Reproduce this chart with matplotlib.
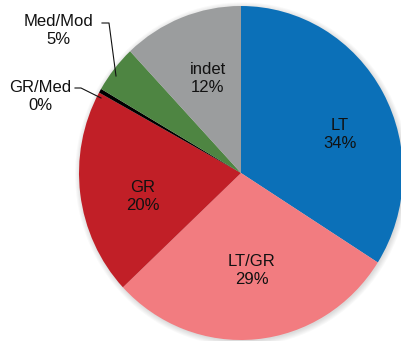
import matplotlib.pyplot as plt
from matplotlib.patches import Ellipse

plt.rcParams['font.family'] = ['Liberation Sans', 'DejaVu Sans']

# share of each class, clockwise from 12 o'clock
names = ["LT", "LT/GR", "GR", "GR/Med", "Med/Mod", "indet"]
shares = [34, 29, 20, 0.4, 4.6, 12]
colors = ["#0b70b8", "#f27c80", "#c11f27", "#000000", "#4e8542", "#9b9d9e"]

W, H = 402, 341
cx, cy = 241, 173          # pie centre in pixels (from top-left)
rx, ry = 162, 167          # slightly squashed horizontally

fig = plt.figure(figsize=(W / 100, H / 100), dpi=100)
ax = fig.add_axes([0, 0, 1, 1])

# soft drop shadow behind the pie
for k in range(6):
    ax.add_patch(Ellipse((0.006, -0.008), 2 * (1 + 0.006 * k), 2 * (1 + 0.006 * k),
                         color="#000000", alpha=0.025, lw=0, zorder=0))

ax.pie(shares, colors=colors, startangle=90, counterclock=False,
       radius=1, wedgeprops=dict(linewidth=0, zorder=1))
ax.set_aspect("auto")
ax.set_xlim(-cx / rx, (W - cx) / rx)
ax.set_ylim(-(H - cy) / ry, cy / ry)
ax.axis("off")


def px(x, y):
    # pixel position -> data coords
    return (x - cx) / rx, (cy - y) / ry


# label centres in pixels
label_pos = {
    "LT": (340, 134),
    "LT/GR": (252, 270),
    "GR": (143, 196),
    "GR/Med": (40, 96),
    "Med/Mod": (58, 31),
    "indet": (208, 78),
}
for name, v in zip(names, shares):
    x, y = px(*label_pos[name])
    ax.text(x, y, f"{name}\n{v:.0f}%", ha="center", va="center",
            fontsize=12, linespacing=1.25, color="#111111", zorder=5)

# leader lines for the two thin slices
leaders = [
    [(102, 23), (109, 23), (116, 76)],
    [(75, 88), (81, 88), (101, 98)],
]
for pts in leaders:
    xs, ys = zip(*[px(*p) for p in pts])
    ax.plot(xs, ys, color="#111111", lw=0.8, zorder=5)

fig.savefig("out.png", dpi=100)
